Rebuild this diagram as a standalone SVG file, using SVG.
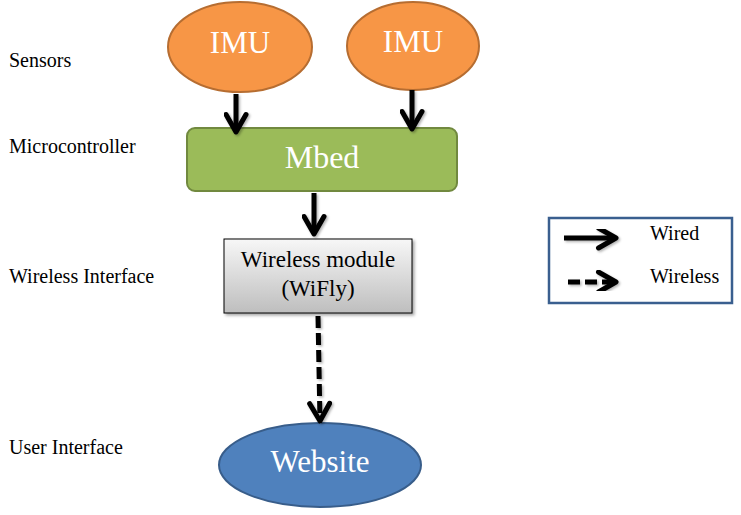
<svg xmlns="http://www.w3.org/2000/svg" width="741" height="515" viewBox="0 0 741 515">
<style>
.lbl{font-family:"Liberation Serif","Times New Roman",serif;font-size:20px;fill:#000}
.big{font-family:"Liberation Serif","Times New Roman",serif;font-size:31px;fill:#fff;text-anchor:middle}
.mid{font-family:"Liberation Serif","Times New Roman",serif;font-size:23px;fill:#000;text-anchor:middle}
.imu{fill:#F79646;stroke:#B66D31;stroke-width:2}
.wire{stroke:#000;stroke-width:5;fill:none}
.dash{stroke:#000;stroke-width:5;fill:none;stroke-dasharray:12 5}
</style>
<defs>
<linearGradient id="gray" x1="0" y1="0" x2="0" y2="1">
<stop offset="0" stop-color="#F7F7F7"/>
<stop offset="1" stop-color="#BEBEBE"/>
</linearGradient>
<marker id="ah" viewBox="0 0 10 10" refX="9" refY="5" markerWidth="5" markerHeight="5" orient="auto" markerUnits="strokeWidth">
<path d="M2,1 L9,5 L2,9" fill="none" stroke="#000" stroke-width="2" stroke-linecap="round" stroke-linejoin="round"/>
</marker>
<filter id="sh" x="-10%" y="-10%" width="130%" height="130%">
<feDropShadow dx="2" dy="2" stdDeviation="1.5" flood-color="#000" flood-opacity="0.35"/>
</filter>
<filter id="ash" x="-50%" y="-20%" width="200%" height="140%">
<feDropShadow dx="1.5" dy="1.5" stdDeviation="1.2" flood-color="#000" flood-opacity="0.3"/>
</filter>
</defs>

<g id="labels">
<text class="lbl" x="9" y="67">Sensors</text>
<text class="lbl" x="9" y="153">Microcontroller</text>
<text class="lbl" x="9" y="283">Wireless Interface</text>
<text class="lbl" x="9" y="454">User Interface</text>
</g>

<g id="imu1">
<ellipse class="imu" cx="240" cy="47" rx="72" ry="45"/>
<text class="big" x="240" y="53">IMU</text>
</g>
<g id="imu2">
<ellipse class="imu" cx="413" cy="46" rx="66" ry="44"/>
<text class="big" x="413" y="52">IMU</text>
</g>

<g id="mbed">
<rect x="187" y="128" width="270" height="63" rx="8" ry="8" fill="#9BBB59" stroke="#71893F" stroke-width="2"/>
<text class="big" x="322" y="168" style="font-size:32px">Mbed</text>
</g>

<g id="wifly">
<rect x="224" y="239" width="188" height="74" fill="url(#gray)" stroke="#000" stroke-width="1" filter="url(#sh)"/>
<text class="mid" x="318" y="267">Wireless module</text>
<text class="mid" x="318" y="296">(WiFly)</text>
</g>

<g id="website">
<ellipse cx="320" cy="465" rx="101" ry="42" fill="#4F81BD" stroke="#385D8A" stroke-width="2"/>
<text class="big" x="320" y="472">Website</text>
</g>

<g id="legend">
<rect x="549" y="218" width="183" height="85" fill="#fff" stroke="#3A5F8F" stroke-width="2.5"/>
<g filter="url(#ash)">
<line class="wire" x1="564" y1="238" x2="616" y2="238" marker-end="url(#ah)"/>
<line class="dash" x1="568" y1="282" x2="616" y2="282" marker-end="url(#ah)"/>
</g>
<text class="lbl" x="650" y="240">Wired</text>
<text class="lbl" x="650" y="283">Wireless</text>
</g>

<g id="connectors" filter="url(#ash)">
<line class="wire" x1="236" y1="94" x2="236" y2="132" marker-end="url(#ah)"/>
<line class="wire" x1="412" y1="90" x2="412" y2="129" marker-end="url(#ah)"/>
<line class="wire" x1="314" y1="193" x2="314" y2="234" marker-end="url(#ah)"/>
<line class="dash" x1="318" y1="316" x2="320" y2="421" marker-end="url(#ah)"/>
</g>
</svg>
